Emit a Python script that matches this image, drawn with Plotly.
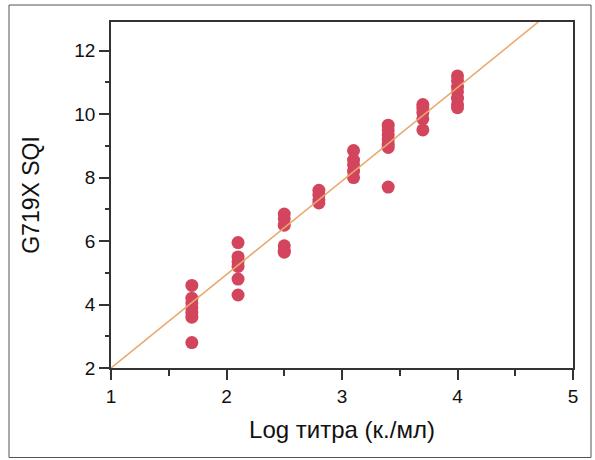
import plotly.graph_objects as go

# Data
x_levels = [1.7, 2.1, 2.5, 2.8, 3.1, 3.4, 3.7, 4.0]
sqi_17 = [4.6, 4.2, 4.05, 3.9, 3.75, 3.6, 2.8]
sqi_21 = [5.95, 5.5, 5.35, 5.2, 4.8, 4.3]
sqi_25 = [6.85, 6.7, 6.5, 5.85, 5.7, 5.65]
sqi_28 = [7.6, 7.45, 7.3, 7.2]
sqi_31 = [8.85, 8.55, 8.4, 8.2, 8.0]
sqi_34 = [9.65, 9.5, 9.35, 9.2, 9.05, 8.95, 7.7]
sqi_37 = [10.3, 10.2, 10.05, 9.85, 9.5]
sqi_40 = [11.2, 11.05, 10.85, 10.7, 10.5, 10.3, 10.2]
groups = [sqi_17, sqi_21, sqi_25, sqi_28, sqi_31, sqi_34, sqi_37, sqi_40]

fit_slope = 2.946
fit_intercept = -0.946
fit_x = [1.0, 4.7]

xticks = [1, 2, 3, 4, 5]
yticks = [2, 4, 6, 8, 10, 12]

px, py = [], []
for xv, ys in zip(x_levels, groups):
    for yv in ys:
        px.append(xv)
        py.append(yv)

fit_y = [fit_intercept + fit_slope * v for v in fit_x]

fig = go.Figure()
fig.add_trace(go.Scatter(
    x=px, y=py, mode="markers",
    marker=dict(size=13, color="#D2455C", line=dict(width=0)),
    showlegend=False, hoverinfo="skip"))
fig.add_trace(go.Scatter(
    x=fit_x, y=fit_y, mode="lines",
    line=dict(color="#E9A86E", width=1.6),
    showlegend=False, hoverinfo="skip"))

W, H = 595, 460
L, R, T, B = 111, 22, 22, 92
pw = W - L - R
ph = H - T - B

def xp(p):
    return (p - L) / pw

def yp(p):
    return (H - B - p) / ph

fig.update_layout(
    width=W, height=H,
    margin=dict(l=L, r=R, t=T, b=B, autoexpand=False),
    paper_bgcolor="white", plot_bgcolor="white",
    font=dict(family="Liberation Sans, Arial, sans-serif", size=19, color="#111"),
    xaxis=dict(
        range=[1, 5], tickvals=xticks, showgrid=False, zeroline=False,
        showline=True, linecolor="#333", linewidth=1.5, mirror=True,
        ticks="outside", ticklen=10, tickwidth=1.5, tickcolor="#333",
        minor=dict(dtick=0.5, ticks="outside", ticklen=6, tickwidth=1.5, tickcolor="#333"),
        tickfont=dict(size=19),
        title=dict(text="Log титра (к./мл)", font=dict(size=24, color="#111"), standoff=16),
    ),
    yaxis=dict(
        range=[2, 12.9], tickvals=yticks, showgrid=False, zeroline=False,
        showline=True, linecolor="#333", linewidth=1.5, mirror=True,
        ticks="outside", ticklen=10, tickwidth=1.5, tickcolor="#333",
        minor=dict(dtick=1, ticks="outside", ticklen=4, tickwidth=1.5, tickcolor="#333"),
        tickfont=dict(size=19),
        title=dict(text="G719X SQI", font=dict(size=23, color="#111"), standoff=28),
    ),
    shapes=[dict(type="rect", xref="paper", yref="paper",
                 x0=xp(9), x1=xp(591), y0=yp(457.5), y1=yp(5),
                 line=dict(color="#555", width=1), fillcolor="rgba(0,0,0,0)", layer="below")],
)

fig.write_html("out.html")
